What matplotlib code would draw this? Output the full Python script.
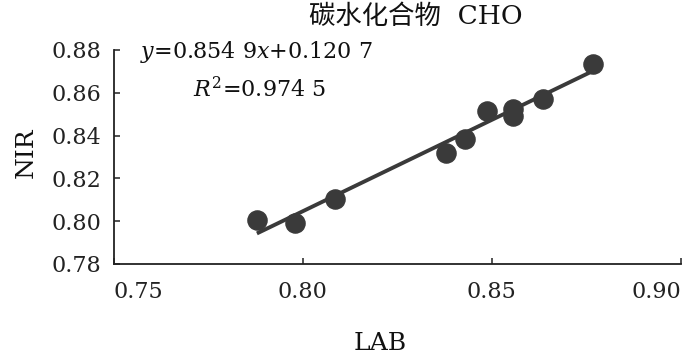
import matplotlib
matplotlib.use("Agg")
import matplotlib.pyplot as plt
import numpy as np

# Data
lab = [0.7879, 0.7980, 0.8085, 0.8379, 0.8429, 0.8488, 0.8557, 0.8557, 0.8636, 0.8767]
nir = [0.8006, 0.7990, 0.8102, 0.8317, 0.8383, 0.8516, 0.8525, 0.8490, 0.8570, 0.8735]
slope = 0.8549
intercept = 0.1207
xticks = [0.75, 0.80, 0.85, 0.90]
yticks = [0.78, 0.80, 0.82, 0.84, 0.86, 0.88]
title = "碳水化合物  CHO"
eq_text = r"$y$=0.854 9$x$+0.120 7"
r2_text = r"$R^2$=0.974 5"

plt.rcParams['font.family'] = ['DejaVu Serif', 'Noto Sans CJK SC']
plt.rcParams['mathtext.fontset'] = 'dejavuserif'

color = '#3a3a3a'
fig = plt.figure(figsize=(7, 3.56), dpi=100)
ax = fig.add_axes([113.5 / 700, 1 - 264 / 356, 567.5 / 700, 214 / 356])

ax.plot(lab, nir, 'o', color=color, ms=13.8, mec=color, zorder=2)
xs = np.array([min(lab), max(lab)])
ax.plot(xs, slope * xs + intercept, '-', color=color, lw=2.8, zorder=3,
        solid_capstyle='butt')

ax.set_xlim(0.75, 0.90)
ax.set_ylim(0.78, 0.88)
ax.set_xticks(xticks)
ax.set_yticks(yticks)
ax.set_xticklabels([f"{v:.2f}" for v in xticks])
ax.set_yticklabels([f"{v:.2f}" for v in yticks])
ax.tick_params(direction='in', length=4, width=1.1, labelsize=16, colors='#222222')
ax.tick_params(axis='x', pad=12)
ax.tick_params(axis='y', pad=9)
xl = ax.get_xticklabels()
xl[0].set_ha('left')
xl[-1].set_ha('right')
for s in ['top', 'right']:
    ax.spines[s].set_visible(False)
for s in ['left', 'bottom']:
    ax.spines[s].set_linewidth(1.3)
    ax.spines[s].set_color('#222222')

ax.set_xlabel("LAB", fontsize=18, va='center', color='#111111')
ax.xaxis.set_label_coords((380 - 113.5) / 567.5, (264 - 344) / 214)
ax.set_ylabel("NIR", fontsize=18, va='center', color='#111111')
ax.yaxis.set_label_coords((26 - 113.5) / 567.5, (264 - 153) / 214)

ax.text((140 - 113.5) / 567.5, (264 - 52) / 214, eq_text, transform=ax.transAxes,
        fontsize=16, ha='left', va='center', color='#111111')
ax.text((193 - 113.5) / 567.5, (264 - 90) / 214, r2_text, transform=ax.transAxes,
        fontsize=16, ha='left', va='center', color='#111111')

fig.text(416 / 700, 1 - 16 / 356, title, fontsize=19, ha='center', va='center',
         color='#111111', fontweight='medium')

fig.savefig("out.png", dpi=100)
